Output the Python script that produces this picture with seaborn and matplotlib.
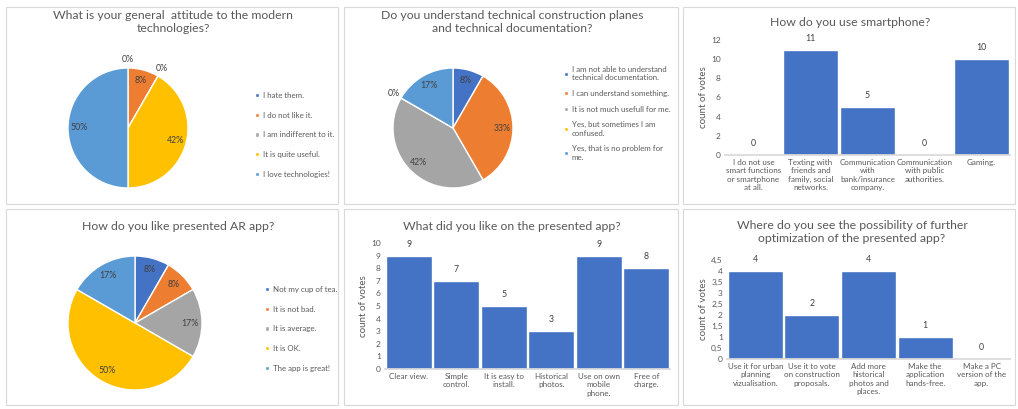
import matplotlib
matplotlib.use("Agg")
import matplotlib.pyplot as plt
from matplotlib.patches import Rectangle
from matplotlib.ticker import FuncFormatter
import numpy as np
import seaborn as sns

# --- data -------------------------------------------------------------
attitude_labels = ["I hate them.", "I do not like it.", "I am indifferent to it.",
                   "It is quite useful.", "I love technologies!"]
attitude_votes = [0, 1, 0, 5, 6]

docs_labels = ["I am not able to understand\ntechnical documentation.",
               "I can understand something.",
               "It is not much usefull for me.",
               "Yes, but sometimes I am\nconfused.",
               "Yes, that is no problem for\nme."]
docs_votes = [1, 4, 5, 0, 2]

phone_labels = ["I do not use\nsmart functions\nor smartphone\nat all.",
                "Texting with\nfriends and\nfamily, social\nnetworks.",
                "Communication\nwith\nbank/insurance\ncompany.",
                "Communication\nwith public\nauthorities.",
                "Gaming."]
phone_votes = [0, 11, 5, 0, 10]

ar_labels = ["Not my cup of tea.", "It is not bad.", "It is average.",
             "It is OK.", "The app is great!"]
ar_votes = [1, 1, 2, 6, 2]

liked_labels = ["Clear view.", "Simple\ncontrol.", "It is easy to\ninstall.",
                "Historical\nphotos.", "Use on own\nmobile\nphone.", "Free of\ncharge."]
liked_votes = [9, 7, 5, 3, 9, 8]

optim_labels = ["Use it for urban\nplanning\nvizualisation.",
                "Use it to vote\non construction\nproposals.",
                "Add more\nhistorical\nphotos and\nplaces.",
                "Make the\napplication\nhands-free.",
                "Make a PC\nversion of the\napp."]
optim_votes = [4, 2, 4, 1, 0]

pie_colors = ["#4472C4", "#ED7D31", "#A5A5A5", "#FFC000", "#5B9BD5"]
bar_color = "#4472C4"
text_gray = "#595959"
label_gray = "#404040"

sns.set_theme(style="white")
plt.rcParams["font.family"] = ["Lato", "DejaVu Sans"]

W, H = 1018, 409
fig = plt.figure(figsize=(W / 100, H / 100), dpi=100)


def px_axes(x0, y0, x1, y1):
    # pixel box (top-left origin) -> axes
    return fig.add_axes([x0 / W, 1 - y1 / H, (x1 - x0) / W, (y1 - y0) / H])


def title(x, y, s):
    fig.text(x / W, 1 - y / H, s, ha="center", va="center", fontsize=8.8,
             color=text_gray, linespacing=1.3)


# panel frames
for (x, y, w, h) in [(6, 7, 332, 197), (344, 7, 334, 197), (683, 7, 332, 197),
                     (6, 209, 332, 196), (344, 209, 334, 196), (683, 209, 332, 196)]:
    fig.patches.append(Rectangle((x / W, 1 - (y + h) / H), w / W, h / H,
                                 transform=fig.transFigure, fill=False,
                                 edgecolor="#D9D9D9", linewidth=0.8))


def draw_pie(cx, cy, r, votes, labels, leg_x, leg_y, leg_spacing):
    ax = px_axes(cx - r, cy - r, cx + r, cy + r)
    wedges, _ = ax.pie(votes, colors=pie_colors, startangle=90, counterclock=False,
                       wedgeprops=dict(edgecolor="white", linewidth=1))
    ax.set_xlim(-1, 1)
    ax.set_ylim(-1, 1)
    ax.set_aspect("equal")
    total = sum(votes)
    for wdg, v in zip(wedges, votes):
        mid = np.deg2rad((wdg.theta1 + wdg.theta2) / 2)
        dist = 0.82 if v > 0 else 1.14
        ax.text(dist * np.cos(mid), dist * np.sin(mid), f"{round(v / total * 100)}%",
                ha="center", va="center", fontsize=6.3, color=label_gray)
    fig.legend(wedges, labels, loc="upper left",
               bbox_to_anchor=(leg_x / W, 1 - leg_y / H),
               bbox_transform=fig.transFigure, frameon=False, fontsize=5.7,
               labelcolor=text_gray, handlelength=0.45, handleheight=0.45,
               handletextpad=0.5, labelspacing=leg_spacing, borderpad=0,
               borderaxespad=0)
    return ax


def draw_bars(x0, y0, x1, y1, labels, votes, ymax, step, comma=False):
    ax = px_axes(x0, y0, x1, y1)
    sns.barplot(x=labels, y=votes, color=bar_color, saturation=1, width=0.97, ax=ax)
    ax.set_ylim(0, ymax)
    ax.set_yticks(np.arange(0, ymax + step / 2, step))
    if comma:
        ax.yaxis.set_major_formatter(
            FuncFormatter(lambda v, p: f"{v:g}".replace(".", ",")))
    ax.bar_label(ax.containers[0], padding=5, fontsize=6.3, color=label_gray)
    ax.set_ylabel("count of votes", fontsize=7, color=text_gray, labelpad=2)
    ax.tick_params(axis="y", length=0, labelsize=6, labelcolor=text_gray, pad=3)
    ax.tick_params(axis="x", length=0, labelsize=5.8, labelcolor=text_gray, pad=3)
    for side in ["top", "right", "left"]:
        ax.spines[side].set_visible(False)
    ax.spines["bottom"].set_color("#D9D9D9")
    ax.set_facecolor("none")
    return ax


# top row
title(173, 22, "What is your general  attitude to the modern\ntechnologies?")
draw_pie(128, 128, 60, attitude_votes, attitude_labels, 255, 92, 1.6)

title(512, 22, "Do you understand technical construction planes\nand technical documentation?")
draw_pie(453, 128, 60, docs_votes, docs_labels, 564, 66, 1.1)

title(850, 22, "How do you use smartphone?")
draw_bars(725, 40, 1010, 155, phone_labels, phone_votes, 12, 2)

# bottom row
title(178, 227, "How do you like presented AR app?")
draw_pie(135, 323, 67, ar_votes, ar_labels, 265, 286, 1.6)

title(512, 226, "What did you like on the presented app?")
draw_bars(385, 243, 670, 369, liked_labels, liked_votes, 10, 1)

title(852, 232, "Where do you see the possibility of further\noptimization of the presented app?")
draw_bars(727, 260, 1010, 359, optim_labels, optim_votes, 4.5, 0.5, comma=True)

fig.savefig("out.png", dpi=100, facecolor="white")
